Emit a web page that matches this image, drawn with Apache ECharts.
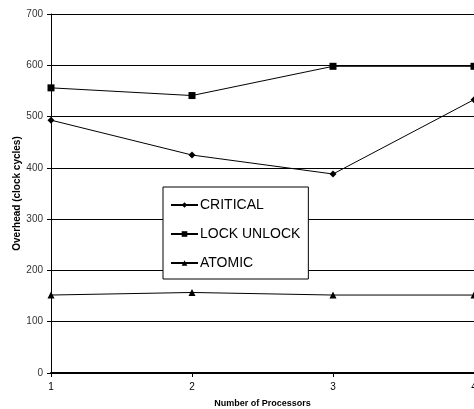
<!DOCTYPE html>
<html>
<head>
<meta charset="utf-8">
<script src="https://cdn.jsdelivr.net/npm/echarts@6/dist/echarts.min.js"></script>
<style>html,body{margin:0;padding:0;background:#fff}#c{width:474px;height:409px}</style>
</head>
<body>
<div id="c"></div>
<script>
const processors = [1, 2, 3, 4];
const critical = [493, 425, 388, 533];
const lockUnlock = [556, 541, 598, 598];
const atomic = [152, 157, 152, 152];
const yTicks = [0, 100, 200, 300, 400, 500, 600, 700];

const font = 'Liberation Sans, Arial, sans-serif';
const chart = echarts.init(document.getElementById('c'));
function mk(name, vals, symbol, size) {
  return {
    name: name, type: 'line', data: processors.map((p, i) => [p, vals[i]]),
    symbol: symbol, symbolSize: size, showSymbol: true,
    lineStyle: { color: '#000', width: 1 }, itemStyle: { color: '#000' },
    emphasis: { disabled: true }, animation: false
  };
}
chart.setOption({
  animation: false,
  grid: { left: 51, top: 14, right: 0, bottom: 36, containLabel: false, outerBoundsMode: 'none' },
  xAxis: {
    type: 'value', min: 1, max: 4, interval: 1,
    name: 'Number of Processors', nameLocation: 'middle', nameGap: 26, nameMoveOverlap: false,
    nameTextStyle: { fontFamily: font, fontSize: 9, fontWeight: 'bold', color: '#000' },
    axisLine: { lineStyle: { color: '#000', width: 2 } },
    axisTick: { show: true, length: 4, lineStyle: { color: '#000' } },
    axisLabel: { fontFamily: font, fontSize: 10, color: '#000', margin: 9 },
    splitLine: { show: false }
  },
  yAxis: {
    type: 'value', min: yTicks[0], max: yTicks[yTicks.length - 1], interval: 100,
    name: 'Overhead (clock cycles)', nameLocation: 'middle', nameGap: 29, nameMoveOverlap: false,
    nameTextStyle: { fontFamily: font, fontSize: 10, fontWeight: 'bold', color: '#000' },
    axisLine: { show: true, lineStyle: { color: '#000', width: 1 } },
    axisTick: { show: true, length: 4, lineStyle: { color: '#000' } },
    axisLabel: { fontFamily: font, fontSize: 10, color: '#333', margin: 8 },
    splitLine: { show: true, lineStyle: { color: '#000', width: 1 } }
  },
  legend: {
    orient: 'vertical', left: 163, top: 187,
    data: ['CRITICAL', 'LOCK UNLOCK', 'ATOMIC'],
    backgroundColor: '#fff', borderColor: '#000', borderWidth: 1,
    padding: [11, 8, 9, 7], itemGap: 15, itemWidth: 27, itemHeight: 7,
    textStyle: { fontFamily: font, fontSize: 14, color: '#000', padding: [0, 0, 0, -3] }
  },
  series: [
    mk('CRITICAL', critical, 'diamond', 7),
    mk('LOCK UNLOCK', lockUnlock, 'rect', 7),
    mk('ATOMIC', atomic, 'triangle', 7)
  ]
});
</script>
</body>
</html>
